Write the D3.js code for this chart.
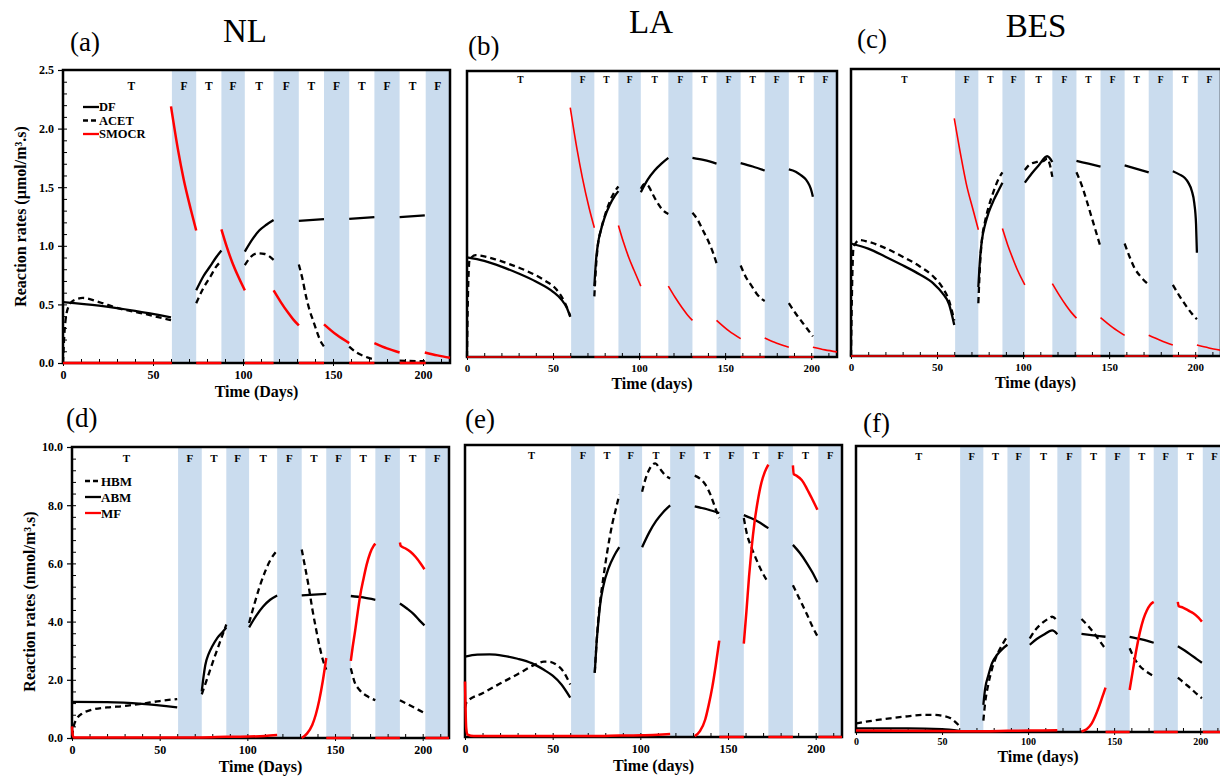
<!DOCTYPE html>
<html><head><meta charset="utf-8">
<script src="https://cdn.jsdelivr.net/npm/d3@7"></script>
<style>body{margin:0;background:#fff}svg{display:block}</style>
</head><body>
<svg id="chart" width="1220" height="777"></svg>
<script>
// ---------- shared data ----------
const fBands = [[60.5,74],[88,101],[117,131],[145,159],[173,187],[201.5,215]];
const phaseBounds = [0,60.5,74,88,101,117,131,145,159,173,187,201.5,215];
const phaseLabels = ["T","F","T","F","T","F","T","F","T","F","T","F"];
const xTicks = [0,50,100,150,200];
const xMinorTicks = d3.range(10,215,10);
const yTicksUmol = [0,0.5,1.0,1.5,2.0,2.5];
const yTicksNmol = [0,2,4,6,8,10];

// ---------- (a) NL, µmol ----------
const NL_DF = [[0,0.52],[20,0.49],[40,0.445],[60,0.39], null,
 [74,0.62],[78,0.74],[82,0.83],[85,0.9],[88,0.96], null,
 [101,0.95],[105,1.05],[109,1.13],[113,1.18],[117,1.22], null,
 [131,1.213],[145,1.228], null,
 [159,1.23],[173,1.245], null,
 [187,1.245],[201,1.26]];
const NL_ACET = [[0,0],[1,0.3],[3,0.48],[6,0.535],[11,0.555],[20,0.52],[30,0.47],[45,0.42],[60,0.365], null,
 [74,0.51],[78,0.64],[82,0.74],[85,0.82],[88,0.87], null,
 [101,0.835],[104,0.9],[108,0.935],[112,0.93],[117,0.88], null,
 [131,0.84],[133,0.72],[135,0.57],[137,0.45],[139,0.36],[141,0.27],[143,0.19],[145,0.14], null,
 [159,0.14],[163,0.09],[167,0.06],[173,0.03], null,
 [187,0.02],[201,0.015]];
const NL_SMOCR = [[0,0],[60.5,0], null,
 [60,2.19],[64,1.81],[67,1.57],[71,1.31],[74,1.13], null,
 [74,0],[88,0], null,
 [88,1.14],[91,0.99],[94,0.86],[97,0.75],[101,0.62], null,
 [101,0],[117,0], null,
 [117,0.62],[121,0.52],[125,0.43],[128,0.37],[131,0.32], null,
 [131,0],[145,0], null,
 [145,0.33],[152,0.24],[159,0.17], null,
 [159,0],[173,0], null,
 [173,0.17],[180,0.125],[187,0.09], null,
 [187,0],[201.5,0], null,
 [201,0.09],[208,0.065],[215,0.045]];

// ---------- (b) LA, µmol ----------
const LA_DF = [[0,0.87],[10,0.84],[20,0.79],[30,0.73],[40,0.66],[50,0.57],[55,0.5],[58,0.43],[60,0.35], null,
 [74,0.62],[75,0.85],[76,0.98],[78,1.12],[80,1.22],[83,1.33],[86,1.41],[88,1.45], null,
 [101,1.44],[105,1.55],[109,1.63],[113,1.69],[117,1.74], null,
 [131,1.74],[138,1.72],[145,1.69], null,
 [159,1.695],[166,1.665],[173,1.63], null,
 [187,1.64],[191,1.62],[194,1.59],[197,1.55],[199,1.5],[200,1.46],[201,1.4]];
const LA_ACET = [[0,0],[0.5,0.5],[1.5,0.85],[5,0.89],[15,0.86],[25,0.81],[35,0.75],[45,0.67],[52,0.59],[57,0.47],[60,0.36], null,
 [74,0.53],[75,0.8],[76,0.97],[78,1.12],[80,1.23],[83,1.36],[86,1.45],[88,1.49], null,
 [101,1.47],[103,1.51],[105,1.5],[108,1.42],[111,1.34],[114,1.28],[117,1.25], null,
 [131,1.26],[134,1.2],[137,1.11],[140,1.02],[143,0.91],[145,0.82], null,
 [159,0.8],[162,0.7],[165,0.63],[168,0.56],[171,0.51],[173,0.49], null,
 [187,0.47],[191,0.38],[195,0.3],[198,0.24],[201,0.18]];
const LA_SMOCR = [[0,0],[60.5,0], null,
 [60,2.18],[64,1.81],[67,1.57],[71,1.3],[74,1.13], null,
 [74,0],[88,0], null,
 [88,1.15],[91,1.0],[94,0.87],[97,0.76],[101,0.62], null,
 [101,0],[117,0], null,
 [117,0.62],[121,0.52],[125,0.43],[128,0.37],[131,0.32], null,
 [131,0],[145,0], null,
 [145,0.32],[152,0.23],[159,0.16], null,
 [159,0],[173,0], null,
 [173,0.166],[180,0.12],[187,0.085], null,
 [187,0],[201.5,0], null,
 [201,0.085],[208,0.062],[215,0.045]];

// ---------- (c) BES, µmol ----------
const BES_DF = [[0,0.98],[10,0.935],[20,0.865],[30,0.79],[40,0.71],[48,0.63],[53,0.55],[57,0.45],[60,0.27], null,
 [74,0.6],[75,0.85],[76,1.0],[78,1.15],[80,1.25],[83,1.36],[86,1.45],[88,1.51], null,
 [101,1.51],[105,1.59],[109,1.66],[114,1.74],[117,1.69], null,
 [131,1.70],[138,1.675],[145,1.65], null,
 [159,1.66],[166,1.63],[173,1.6], null,
 [187,1.61],[191,1.58],[194,1.55],[196,1.51],[198,1.44],[199.5,1.33],[200.5,1.15],[201,0.9]];
const BES_ACET = [[0,0],[0.5,0.5],[1.5,0.95],[5,1.01],[10,0.995],[20,0.94],[30,0.865],[40,0.78],[48,0.69],[53,0.6],[57,0.48],[60,0.31], null,
 [74,0.46],[75,0.8],[76,1.0],[78,1.18],[80,1.3],[83,1.44],[86,1.55],[88,1.6], null,
 [101,1.62],[104,1.67],[108,1.69],[112,1.7],[114,1.72],[115.5,1.67],[117,1.56], null,
 [131,1.6],[134,1.49],[137,1.35],[140,1.2],[143,1.05],[145,0.95], null,
 [159,0.98],[162,0.86],[165,0.76],[169,0.68],[173,0.62], null,
 [187,0.62],[191,0.52],[195,0.43],[198,0.37],[201,0.32]];
const BES_SMOCR = [[0,0],[60.5,0], null,
 [60,2.07],[64,1.73],[67,1.5],[71,1.27],[74,1.1], null,
 [74,0],[88,0], null,
 [88,1.11],[91,0.97],[94,0.85],[97,0.74],[101,0.62], null,
 [101,0],[117,0], null,
 [117,0.63],[121,0.53],[125,0.44],[128,0.38],[131,0.33], null,
 [131,0],[145,0], null,
 [145,0.335],[152,0.25],[159,0.18], null,
 [159,0],[173,0], null,
 [173,0.18],[180,0.135],[187,0.095], null,
 [187,0],[201.5,0], null,
 [201,0.095],[208,0.07],[215,0.05]];

// ---------- (d) NL, nmol ----------
const NL_HBM = [[0,0.05],[1,0.4],[3,0.68],[6,0.85],[10,0.95],[20,1.05],[30,1.1],[40,1.18],[50,1.27],[60,1.34], null,
 [74,1.5],[78,2.2],[82,2.9],[85,3.4],[88,3.9], null,
 [101,3.95],[104,4.6],[107,5.2],[110,5.7],[113,6.1],[117,6.45], null,
 [131,6.48],[133,5.85],[135,5.2],[137,4.45],[139,3.8],[141,3.2],[143,2.7],[145,2.35], null,
 [159,2.4],[161,1.95],[164,1.65],[168,1.45],[173,1.3], null,
 [187,1.3],[194,1.08],[201,0.86]];
const NL_ABM = [[0,1.24],[20,1.23],[40,1.17],[60,1.05], null,
 [74,1.6],[75,2.1],[76,2.5],[78,2.9],[80,3.15],[83,3.45],[86,3.65],[88,3.8], null,
 [101,3.8],[105,4.2],[109,4.52],[113,4.75],[117,4.9], null,
 [131,4.9],[145,4.95], null,
 [159,4.88],[166,4.83],[173,4.75], null,
 [187,4.62],[191,4.45],[195,4.25],[198,4.05],[201,3.87]];
const NL_MF = [[0,0.4],[0.4,0.1],[1,0.02],[60,0.02],[74,0.02],[88,0.04],[101,0.05],[110,0.07],[117,0.1], null,
 [131,0],[134,0.15],[137,0.45],[139,0.8],[141,1.3],[143,1.95],[145,2.75], null,
 [145,0],[159,0], null,
 [159,2.65],[160,3.1],[161.5,3.7],[163,4.35],[164.5,4.95],[166,5.4],[168,5.95],[170,6.35],[172,6.6],[173,6.68], null,
 [173,0],[187,0], null,
 [187,6.72],[187.5,6.6],[190,6.52],[193,6.4],[196,6.22],[199,5.98],[201,5.8], null,
 [201.5,0],[215,0]];

// ---------- (e) LA, nmol ----------
const LA_HBM = [[0,1.0],[1,1.2],[10,1.5],[20,1.83],[30,2.15],[40,2.48],[45,2.58],[48,2.58],[52,2.48],[56,2.25],[60,1.8], null,
 [74,2.2],[75,3.2],[76,4.0],[77,4.6],[79,5.5],[81,6.3],[84,7.3],[86,7.8],[88,8.3], null,
 [101,8.4],[103,8.85],[105,9.15],[107,9.33],[108.5,9.37],[111,9.2],[114,8.98],[117,8.85], null,
 [131,8.95],[134,8.85],[137,8.65],[140,8.3],[143,7.8],[145,7.5], null,
 [159,7.5],[161,6.9],[163,6.55],[166,6.1],[169,5.7],[173,5.28], null,
 [187,5.2],[191,4.7],[195,4.2],[198,3.8],[201,3.45]];
const LA_ABM = [[0,2.75],[7,2.82],[14,2.83],[22,2.78],[30,2.68],[38,2.53],[45,2.3],[50,2.1],[55,1.8],[60,1.35], null,
 [74,2.2],[75,3.2],[76,3.9],[77,4.5],[79,5.2],[82,5.8],[85,6.2],[88,6.5], null,
 [101,6.5],[105,7.0],[109,7.4],[113,7.7],[117,7.93], null,
 [131,7.9],[138,7.8],[145,7.67], null,
 [159,7.6],[163,7.5],[167,7.38],[170,7.27],[173,7.15], null,
 [187,6.58],[191,6.3],[195,5.95],[198,5.65],[201,5.3]];
const LA_MF = [[0,1.9],[0.3,1.0],[0.7,0.3],[1.5,0.08],[5,0.03],[60,0.03],[74,0.03],[88,0.05],[101,0.06],[110,0.08],[117,0.1], null,
 [131,0.03],[134,0.2],[137,0.6],[139,1.1],[141,1.7],[143,2.45],[145,3.3], null,
 [145,0],[159,0], null,
 [159,3.2],[160.5,4.3],[162,5.5],[163.5,6.5],[165,7.3],[167,8.1],[169,8.7],[171,9.08],[173,9.33], null,
 [173,0],[187,0], null,
 [187,9.3],[187.5,9.0],[189,8.95],[192,8.8],[195,8.5],[198,8.15],[201,7.78], null,
 [201.5,0],[215,0]];

// ---------- (f) BES, nmol ----------
const BES_HBM = [[0,0.3],[10,0.4],[20,0.48],[30,0.55],[40,0.6],[45,0.6],[50,0.57],[55,0.48],[60,0.22], null,
 [74,0.4],[75,1.0],[77,1.7],[79,2.2],[82,2.7],[85,3.05],[88,3.35], null,
 [101,3.27],[104,3.55],[108,3.8],[112,3.97],[114,4.03],[117,3.88], null,
 [131,3.95],[135,3.7],[139,3.4],[142,3.15],[145,2.9], null,
 [159,2.93],[162,2.55],[165,2.3],[169,2.1],[173,1.95], null,
 [187,1.9],[191,1.7],[195,1.5],[198,1.33],[201,1.18]];
const BES_ABM = [[0,0.13],[30,0.13],[50,0.1],[60,0.04], null,
 [74,0.95],[75,1.5],[77,2.0],[79,2.4],[82,2.7],[85,2.9],[88,3.05], null,
 [101,3.05],[105,3.25],[109,3.4],[114,3.55],[117,3.42], null,
 [131,3.43],[138,3.38],[145,3.33], null,
 [159,3.33],[166,3.24],[173,3.12], null,
 [187,3.0],[191,2.85],[195,2.68],[198,2.55],[201,2.42]];
const BES_MF = [[0,0.05],[60,0.03],[74,0.03],[88,0.04],[101,0.05],[117,0.06], null,
 [131,0.02],[134,0.1],[137,0.3],[139,0.55],[141,0.85],[143,1.2],[145,1.55], null,
 [145,0],[159,0], null,
 [159,1.47],[161,2.2],[163,2.9],[165,3.5],[167,3.95],[169,4.25],[171,4.45],[173,4.55], null,
 [173,0],[187,0], null,
 [187,4.55],[187.5,4.4],[190,4.35],[193,4.25],[196,4.15],[199,4.0],[201,3.86], null,
 [201.5,0],[215,0]];

// ---------- layout / styling ----------
const FONT = "'Liberation Serif','Times New Roman',Times,serif";
const BAND = "#cadcee";
const RED = "#ff0000";

const panels = [
 {label:"(a)", lab:[70,51], title:"NL", titlePos:[245,42], box:[63,70,450,363], yMax:2.5, yTicks:yTicksUmol, yMinorStep:0.1, yLabels:true,
  yTitle:"Reaction rates (µmol/m³.s)", yTitleDy:0, xTitle:"Time (Days)", tick:12, tf:11.5, tfDy:15.5, firstT:38, xPad:4, xTitleDy:34, redW:2.5,
  legend:{dx:20, dy:37, gap:13.5, size:12.5},
  series:[{name:"DF",data:NL_DF,color:"#000",dash:null},{name:"ACET",data:NL_ACET,color:"#000",dash:"6,4"},{name:"SMOCR",data:NL_SMOCR,color:RED,dash:null,red:true}]},
 {label:"(b)", lab:[468,55], title:"LA", titlePos:[651,33], box:[467,71,837,357], yMax:2.5, yLabels:false,
  xTitle:"Time (days)", tick:11, tf:9.5, tfDy:9, firstT:31, xPad:4, xTitleDy:32, redW:1.6,
  series:[{name:"DF",data:LA_DF,color:"#000",dash:null},{name:"ACET",data:LA_ACET,color:"#000",dash:"6,4"},{name:"SMOCR",data:LA_SMOCR,color:RED,dash:null,red:true}]},
 {label:"(c)", lab:[857,48], title:"BES", titlePos:[1036,37], box:[851,69,1221,356], yMax:2.5, yLabels:false,
  xTitle:"Time (days)", tick:11, tf:9.5, tfDy:10.5, firstT:31, xPad:4, xTitleDy:32, redW:1.6,
  series:[{name:"DF",data:BES_DF,color:"#000",dash:null},{name:"ACET",data:BES_ACET,color:"#000",dash:"6,4"},{name:"SMOCR",data:BES_SMOCR,color:RED,dash:null,red:true}]},
 {label:"(d)", lab:[66,427], box:[72,447,449,738], yMax:10, yTicks:yTicksNmol, yMinorStep:0.4, yLabels:true,
  yTitle:"Reaction rates (nmol/m³.s)", yTitleDy:9, xTitle:"Time (Days)", tick:12, tf:11, tfDy:11, firstT:31, xPad:4, xTitleDy:33.5, redW:2.5,
  legend:{dx:13, dy:34, gap:16, size:13},
  series:[{name:"HBM",data:NL_HBM,color:"#000",dash:"6,4"},{name:"ABM",data:NL_ABM,color:"#000",dash:null},{name:"MF",data:NL_MF,color:RED,dash:null,red:true}]},
 {label:"(e)", lab:[465,428], box:[465,445,842,737], yMax:10, yLabels:false,
  xTitle:"Time (days)", tick:12, tf:10.5, tfDy:10.5, firstT:38, xPad:4, xTitleDy:34, redW:2.5,
  series:[{name:"HBM",data:LA_HBM,color:"#000",dash:"6,4"},{name:"ABM",data:LA_ABM,color:"#000",dash:null},{name:"MF",data:LA_MF,color:RED,dash:null,red:true}]},
 {label:"(f)", lab:[863,432], box:[856,446,1226,732], yMax:10, yLabels:false,
  xTitle:"Time (days)", tick:10, tf:10.5, tfDy:10.5, firstT:36.5, xPad:3, xTitleDy:30, redW:2.5,
  series:[{name:"HBM",data:BES_HBM,color:"#000",dash:"6,4"},{name:"ABM",data:BES_ABM,color:"#000",dash:null},{name:"MF",data:BES_MF,color:RED,dash:null,red:true}]}
];

const svg = d3.select("#chart");

panels.forEach(p => {
  const [L,T,R,B] = p.box;
  const x = d3.scaleLinear().domain([0,215]).range([L,R]);
  const y = d3.scaleLinear().domain([0,p.yMax]).range([B,T]);
  const g = svg.append("g");

  // F bands
  g.selectAll("rect.band").data(fBands).join("rect")
    .attr("x", d => x(d[0])).attr("width", d => x(d[1]) - x(d[0]))
    .attr("y", T).attr("height", B - T).attr("fill", BAND);

  // T/F labels
  const centers = phaseLabels.map((t,i) => ({t, c: i === 0 ? p.firstT : (phaseBounds[i] + phaseBounds[i+1]) / 2}));
  g.selectAll("text.tf").data(centers).join("text")
    .attr("x", d => x(d.c)).attr("y", T + p.tfDy)
    .attr("text-anchor","middle").attr("dominant-baseline","central")
    .attr("font-family",FONT).attr("font-weight","bold").attr("font-size",p.tf)
    .text(d => d.t);

  // x axis: minor (inward) + major (outward, labelled)
  g.append("g").attr("transform",`translate(0,${B})`)
    .call(d3.axisBottom(x).tickValues(xMinorTicks).tickSizeInner(-4).tickSizeOuter(0).tickFormat(""))
    .call(a => a.select(".domain").remove())
    .call(a => a.selectAll("line").attr("stroke","#000").attr("stroke-width",1));
  g.append("g").attr("transform",`translate(0,${B})`)
    .call(d3.axisBottom(x).tickValues(xTicks).tickSizeInner(3).tickSizeOuter(0).tickPadding(p.xPad).tickFormat(d3.format("d")))
    .call(a => a.select(".domain").remove())
    .call(a => a.selectAll("line").attr("stroke","#000").attr("stroke-width",1))
    .call(a => a.selectAll("text").attr("font-family",FONT).attr("font-weight","bold").attr("font-size",p.tick).attr("fill","#000"));

  // y axis
  if (p.yLabels) {
    const minors = d3.range(p.yMinorStep, p.yMax, p.yMinorStep).map(v => +v.toFixed(3));
    g.append("g").attr("transform",`translate(${L},0)`)
      .call(d3.axisLeft(y).tickValues(minors).tickSizeInner(-4).tickSizeOuter(0).tickFormat(""))
      .call(a => a.select(".domain").remove())
      .call(a => a.selectAll("line").attr("stroke","#000").attr("stroke-width",1));
    g.append("g").attr("transform",`translate(${L},0)`)
      .call(d3.axisLeft(y).tickValues(p.yTicks).tickSizeInner(5).tickSizeOuter(0).tickPadding(4).tickFormat(d3.format(".1f")))
      .call(a => a.select(".domain").remove())
      .call(a => a.selectAll("line").attr("stroke","#000").attr("stroke-width",1.2))
      .call(a => a.selectAll("text").attr("font-family",FONT).attr("font-weight","bold").attr("font-size",p.tick).attr("fill","#000"));
    g.append("text")
      .attr("transform",`translate(${L-43},${(T+B)/2 + p.yTitleDy}) rotate(-90)`)
      .attr("text-anchor","middle").attr("dominant-baseline","central")
      .attr("font-family",FONT).attr("font-weight","bold").attr("font-size",16)
      .text(p.yTitle);
  }

  // frame
  g.append("rect").attr("x",L).attr("y",T).attr("width",R-L).attr("height",B-T)
    .attr("fill","none").attr("stroke","#000").attr("stroke-width",2.5);

  // series
  const line = d3.line().defined(d => d !== null)
    .x(d => x(d[0])).y(d => y(d[1])).curve(d3.curveMonotoneX);
  p.series.forEach(s => {
    g.append("path").datum(s.data).attr("d", line)
      .attr("fill","none").attr("stroke", s.color)
      .attr("stroke-width", s.red ? p.redW : 2.3)
      .attr("stroke-dasharray", s.dash)
      .attr("stroke-linecap","butt").attr("stroke-linejoin","round");
  });

  // legend
  if (p.legend) {
    const lg = p.legend;
    p.series.forEach((s,i) => {
      const yy = T + lg.dy + i * lg.gap;
      g.append("line").attr("x1",L+lg.dx).attr("x2",L+lg.dx+16).attr("y1",yy).attr("y2",yy)
        .attr("stroke",s.color).attr("stroke-width",2.3).attr("stroke-dasharray",s.dash ? "5,3" : null);
      g.append("text").attr("x",L+lg.dx+16).attr("y",yy).attr("dominant-baseline","central")
        .attr("font-family",FONT).attr("font-weight","bold").attr("font-size",lg.size).text(s.name);
    });
  }

  // x title
  g.append("text").attr("x",(L+Math.min(R,1220))/2).attr("y",B+p.xTitleDy)
    .attr("text-anchor","middle").attr("font-family",FONT).attr("font-weight","bold").attr("font-size",16)
    .text(p.xTitle);

  // panel label & title
  g.append("text").attr("x",p.lab[0]).attr("y",p.lab[1]).attr("font-family",FONT).attr("font-size",27).text(p.label);
  if (p.title) {
    g.append("text").attr("x",p.titlePos[0]).attr("y",p.titlePos[1]).attr("text-anchor","middle")
      .attr("font-family",FONT).attr("font-size",33).text(p.title);
  }
});
</script>
</body></html>
